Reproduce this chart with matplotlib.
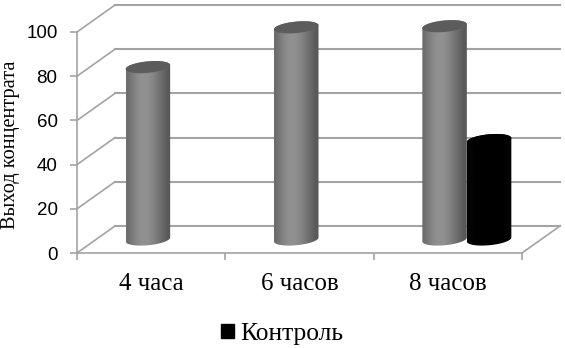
import numpy as np
import matplotlib
matplotlib.use('Agg')
import matplotlib.pyplot as plt
from matplotlib.patches import Patch, Polygon

categories = ['4 часа', '6 часов', '8 часов']
series_main = [78, 96, 96.5]
series_control = [None, None, 45]
control_label = 'Контроль'
y_label = 'Выход концентрата'
y_ticks = [0, 20, 40, 60, 80, 100]

W, H = 565, 348
# передняя плоскость оси в пикселях
left, right, bottom, top = 77, 522, 253, 32
depth_x = 3 * 38 / (right - left)
depth_y = 100 * 27 / (bottom - top)
bar_w = 0.3
grid_col = '#a3a3a3'
serif = 'Liberation Serif'

fig = plt.figure(figsize=(W / 100, H / 100), dpi=100)
ax = fig.add_axes([left / W, 1 - bottom / H, (right - left) / W, (bottom - top) / H])
ax.set_xlim(0, 3)
ax.set_ylim(0, 100)
for s in ['top', 'right']:
    ax.spines[s].set_visible(False)
for s in ['left', 'bottom']:
    ax.spines[s].set_color(grid_col)
    ax.spines[s].set_linewidth(1.2)
ax.patch.set_alpha(0)

# сетка на задней стенке и на левой стороне
for t in y_ticks:
    ax.plot([depth_x, 3 + depth_x], [t + depth_y, t + depth_y], color=grid_col, lw=1.5, clip_on=False, zorder=1)
    ax.plot([0, depth_x], [t, t + depth_y], color=grid_col, lw=1.2, clip_on=False, zorder=1)
ax.plot([3, 3 + depth_x], [0, depth_y], color=grid_col, lw=1.2, clip_on=False, zorder=1)

ax.set_yticks(y_ticks)
ax.set_yticklabels([str(t) for t in y_ticks], fontsize=13.5, family='Liberation Sans')
ax.set_xticks([0, 1, 2, 3])
ax.set_xticklabels([])
ax.tick_params(axis='both', color=grid_col, length=5, width=1.2)
ax.tick_params(axis='y', pad=9)
for i, c in enumerate(categories):
    ax.annotate(c, (i + 0.5, 0), xytext=(0, -31), textcoords='offset pixels', ha='center', va='center',
                fontsize=18, family=serif, annotation_clip=False)

fig.text(11 / W, 1 - 145 / H, y_label, rotation=90, ha='center', va='center', fontsize=14.7, family=serif)


def cylinder(xc, val, cmap_vals, top_col, z):
    # цилиндр: тело с градиентом и верхний эллипс
    a = bar_w / 2
    b = 2.6
    shear = 0.9
    y0 = depth_y / 2
    t_low = np.linspace(np.pi, 2 * np.pi, 40)
    t_up = np.linspace(0, np.pi, 40)
    t_all = np.linspace(0, 2 * np.pi, 80)
    xs = np.concatenate([xc + a * np.cos(t_low), xc + a * np.cos(t_up)])
    ys = np.concatenate([y0 + b * np.sin(t_low) + shear * np.cos(t_low),
                         y0 + val + b * np.sin(t_up) + shear * np.cos(t_up)])
    body = Polygon(np.column_stack([xs, ys]), closed=True, transform=ax.transData, fc='none', ec='none')
    ax.add_patch(body)
    img = ax.imshow(np.array(cmap_vals).reshape(1, -1), cmap='gray', vmin=0, vmax=1, aspect='auto',
                    extent=[xc - a, xc + a, y0 - b - 2, y0 + val + b + 2], interpolation='bicubic', zorder=z)
    img.set_clip_path(body)
    img.set_clip_box(fig.bbox)
    ax.add_patch(Polygon(np.column_stack([xc + a * np.cos(t_all), y0 + val + b * np.sin(t_all) + shear * np.cos(t_all)]),
                         closed=True, fc=top_col, ec='none', zorder=z + 0.1, clip_on=False))


gray_grad = [0.42, 0.5, 0.55, 0.57, 0.56, 0.52, 0.46, 0.4, 0.34]
black_grad = [0.02, 0.0, 0.0, 0.0, 0.0, 0.0, 0.0, 0.02]
for i in range(len(categories)):
    center = i + 0.5 + depth_x / 2
    cylinder(center - bar_w / 2, series_main[i], gray_grad, '#5c5c5c', 3)
    if series_control[i] is not None:
        cylinder(center + bar_w / 2, series_control[i], black_grad, '#000000', 4)

ax.set_xlim(0, 3)
ax.set_ylim(0, 100)

leg = fig.legend(handles=[Patch(fc='black', ec='black', label=control_label)], loc='center',
                 bbox_to_anchor=(282 / W, 1 - 334 / H), frameon=False, handlelength=0.5, handleheight=0.5,
                 handletextpad=0.25, prop={'family': serif, 'size': 18.4})

fig.savefig('out.png', dpi=100)
